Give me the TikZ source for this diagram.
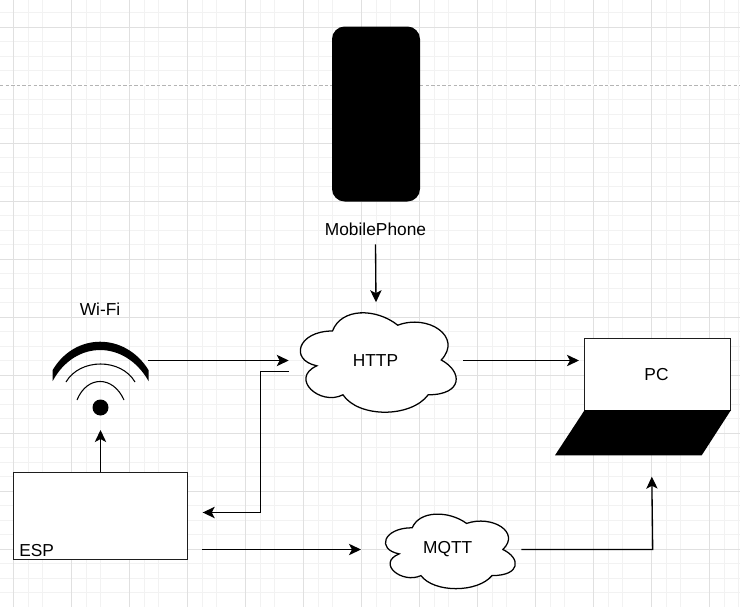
\documentclass[tikz,border=0pt]{standalone}
\usepackage{fontspec}
\setmainfont{Liberation Sans}
\usetikzlibrary{arrows.meta}
\definecolor{gridmajor}{HTML}{E0E0E0}
\definecolor{gridminor}{HTML}{F2F2F2}
\definecolor{pageline}{HTML}{B4B4B4}
\definecolor{edgedark}{HTML}{1E1E1E}
\tikzset{
  txt/.style={inner sep=0pt,font=\fontsize{13}{15}\selectfont,text=black},
  conn/.style={draw=black,line width=1pt,-{Stealth[length=9pt,width=8.5pt,inset=2.2pt]}},
  cloudline/.style={draw=black,line width=0.95pt,fill=white},
  boxline/.style={draw=edgedark,line width=1pt,fill=white},
  wave/.style={draw=black,line width=0.8pt},
  solidblack/.style={fill=black,draw=none},
}
\newcommand{\cloudoutline}[4]{%
  \path[cloudline] (#1+0.25*#3,#2+0.25*#4)
   .. controls (#1+0.05*#3,#2+0.25*#4) and (#1,#2+0.5*#4) .. (#1+0.16*#3,#2+0.55*#4)
   .. controls (#1,#2+0.66*#4) and (#1+0.18*#3,#2+0.9*#4) .. (#1+0.31*#3,#2+0.8*#4)
   .. controls (#1+0.4*#3,#2+#4) and (#1+0.7*#3,#2+#4) .. (#1+0.8*#3,#2+0.8*#4)
   .. controls (#1+#3,#2+0.8*#4) and (#1+#3,#2+0.6*#4) .. (#1+0.875*#3,#2+0.5*#4)
   .. controls (#1+#3,#2+0.3*#4) and (#1+0.8*#3,#2+0.1*#4) .. (#1+0.625*#3,#2+0.2*#4)
   .. controls (#1+0.5*#3,#2+0.05*#4) and (#1+0.3*#3,#2+0.05*#4) .. cycle;}
\begin{document}
\begin{tikzpicture}[x=0.75pt,y=-0.75pt]
\useasboundingbox (0,0) rectangle (740,607);
\fill[white] (0,0) rectangle (740,607);
% grid
\foreach \k in {0,...,51}{
  \pgfmathtruncatemacro{\m}{mod(\k,4)}
  \ifnum\m=0\relax\else
    \draw[gridminor,line width=0.75pt] ({-1+14.5*\k},0) -- ({-1+14.5*\k},607);
  \fi}
\foreach \k in {-1,...,40}{
  \pgfmathtruncatemacro{\m}{mod(\k+4,4)}
  \ifnum\m=0\relax\else
    \draw[gridminor,line width=0.75pt] (0,{27+14.5*\k}) -- (740,{27+14.5*\k});
  \fi}
\foreach \k in {0,...,12}{
  \draw[gridmajor,line width=0.75pt] ({13.5+58*\k},0) -- ({13.5+58*\k},607);}
\foreach \k in {0,...,10}{
  \draw[gridmajor,line width=0.75pt] (0,{27+58*\k}) -- (740,{27+58*\k});}
\draw[white,line width=0.9pt] (0,85) -- (740,85);
\draw[pageline,line width=0.75pt,dash pattern=on 2.6pt off 1.6pt] (0,85) -- (740,85);

% phone
\node[solidblack,rounded corners=9.5pt,minimum width=66pt,minimum height=131.25pt,inner sep=0pt] (phone) at (376,114) {};
\node[txt,minimum height=22.5pt] (mobile) at (375.5,229) {MobilePhone};

% clouds
\cloudoutline{289}{302}{174}{116}
\node[txt,minimum width=130.5pt,minimum height=87pt] (http) at (376,360.5) {};
\node[txt] (httplabel) at (375.5,360.5) {HTTP};
\cloudoutline{376}{506}{145}{87}
\node[txt,minimum width=108.75pt,minimum height=65.25pt] (mqtt) at (448.5,549.5) {};
\node[txt] (mqttlabel) at (447.7,549) {MQTT};

% wifi
\path[solidblack] (52.7,370) .. controls (75,332.3) and (125,332.3) .. (148.5,370)
   -- (148.5,381) .. controls (125,339.7) and (75,339.7) .. (52.7,381) -- cycle;
\draw[wave] (66,382) .. controls (80,358) and (121,358) .. (135,382);
\draw[wave] (77,400) .. controls (87,375.3) and (113,375.3) .. (124,400);
\node[solidblack,circle,minimum size=12pt,inner sep=0pt] (wifidot) at (100.5,407.5) {};
\node[txt] (wifilabel) at (100,309) {Wi-Fi};

% esp
\node[boxline,minimum width=130.5pt,minimum height=65.25pt,inner sep=0pt] (esp) at (100.5,516) {};
\node[txt,anchor=west] (esplabel) at (19,550.5) {ESP};

% pc
\node[boxline,minimum width=109.1pt,minimum height=53.6pt,inner sep=0pt] (screen) at (657.5,374.5) {};
\node[txt] (pclabel) at (656.5,374.5) {PC};
\path[solidblack] (584.7,410) -- (731,410) -- (701.7,455.3) -- (555,455.3) -- cycle;

% free ends
\coordinate (wifiin) at (100.5,430);
\coordinate (wifiout) at (147.5,360.5);
\coordinate (httpback) at (289,371.5);
\coordinate (bend) at (260.5,371.5);
\coordinate (espin) at (202.7,512.5);
\coordinate (espout) at (202,549.5);
\coordinate (mqttin) at (361,549.5);
\coordinate (pcin) at (579,360.5);
\coordinate (pcbend) at (652.7,549.5);
\coordinate (pcbottom) at (651.8,476.7);

% connectors
\draw[conn] (mobile.south) -- (http.north);
\draw[conn] (esp.north) -- (wifiin);
\draw[conn] (wifiout) -- (http.west);
\draw[conn] (httpback) -- (bend) |- (espin);
\draw[conn] (espout) -- (mqttin);
\draw[conn] (http.east) -- (pcin);
\draw[conn] (mqtt.east) -- (pcbend) -- (pcbottom);
\end{tikzpicture}
\end{document}
